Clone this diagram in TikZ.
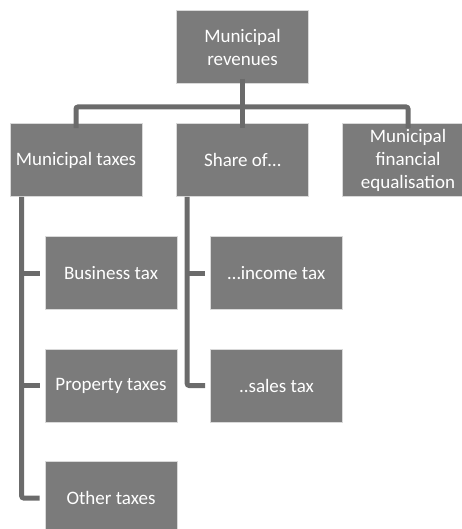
\documentclass[tikz,border=0pt]{standalone}
\usepackage{fontspec}
\setmainfont{Carlito}
\definecolor{boxgray}{HTML}{7B7B7B}
\definecolor{linegray}{HTML}{6B6B6B}
\begin{document}
\begin{tikzpicture}[x=1pt, y=-1pt,
    box/.style={fill=boxgray, draw=white!85!black, line width=0.6pt, text=white,
        minimum width=132pt, minimum height=73pt, align=center,
        font=\fontsize{19}{23}\selectfont, inner sep=1pt},
    conn/.style={draw=linegray, line width=5pt, rounded corners=2pt}]
    \useasboundingbox (0,0) rectangle (462,529);
    \begin{scope}
    \clip (0,0) rectangle (462,529);
    \node[box] (rev) at (242.5,47) {Municipal\\revenues};
    \node[box] (mtax) at (76,160) {Municipal taxes};
    \node[box] (share) at (242.5,160) {Share of\dots};
    \node[box] (equal) at (408,160) {Municipal\\financial\\equalisation};
    \node[box] (bus) at (111,273) {Business tax};
    \node[box] (prop) at (111,385.5) {Property taxes};
    \node[box] (other) at (111,498) {Other taxes};
    \node[box] (inc) at (276.5,273) {\dots income tax};
    \node[box] (sales) at (276.5,385.5) {..sales tax};
    \coordinate (bar) at (242.5,107);
    % first level
    \draw[conn] ([yshift=5pt]rev.south) -- ([yshift=-5pt]share.north);
    \draw[conn] ([yshift=-5pt]mtax.north) |- (bar) -| ([yshift=-5pt]equal.north);
    % municipal taxes
    \draw[conn] ([xshift=12pt]mtax.south west) |- ([xshift=-5pt]other.west);
    \draw[conn, rounded corners=0pt] ([xshift=12pt]mtax.south west |- bus.west) -- ([xshift=-5pt]bus.west);
    \draw[conn, rounded corners=0pt] ([xshift=12pt]mtax.south west |- prop.west) -- ([xshift=-5pt]prop.west);
    % share of
    \draw[conn] ([xshift=11pt]share.south west) |- ([xshift=-5pt]sales.west);
    \draw[conn, rounded corners=0pt] ([xshift=11pt]share.south west |- inc.west) -- ([xshift=-5pt]inc.west);
    \end{scope}
\end{tikzpicture}
\end{document}
